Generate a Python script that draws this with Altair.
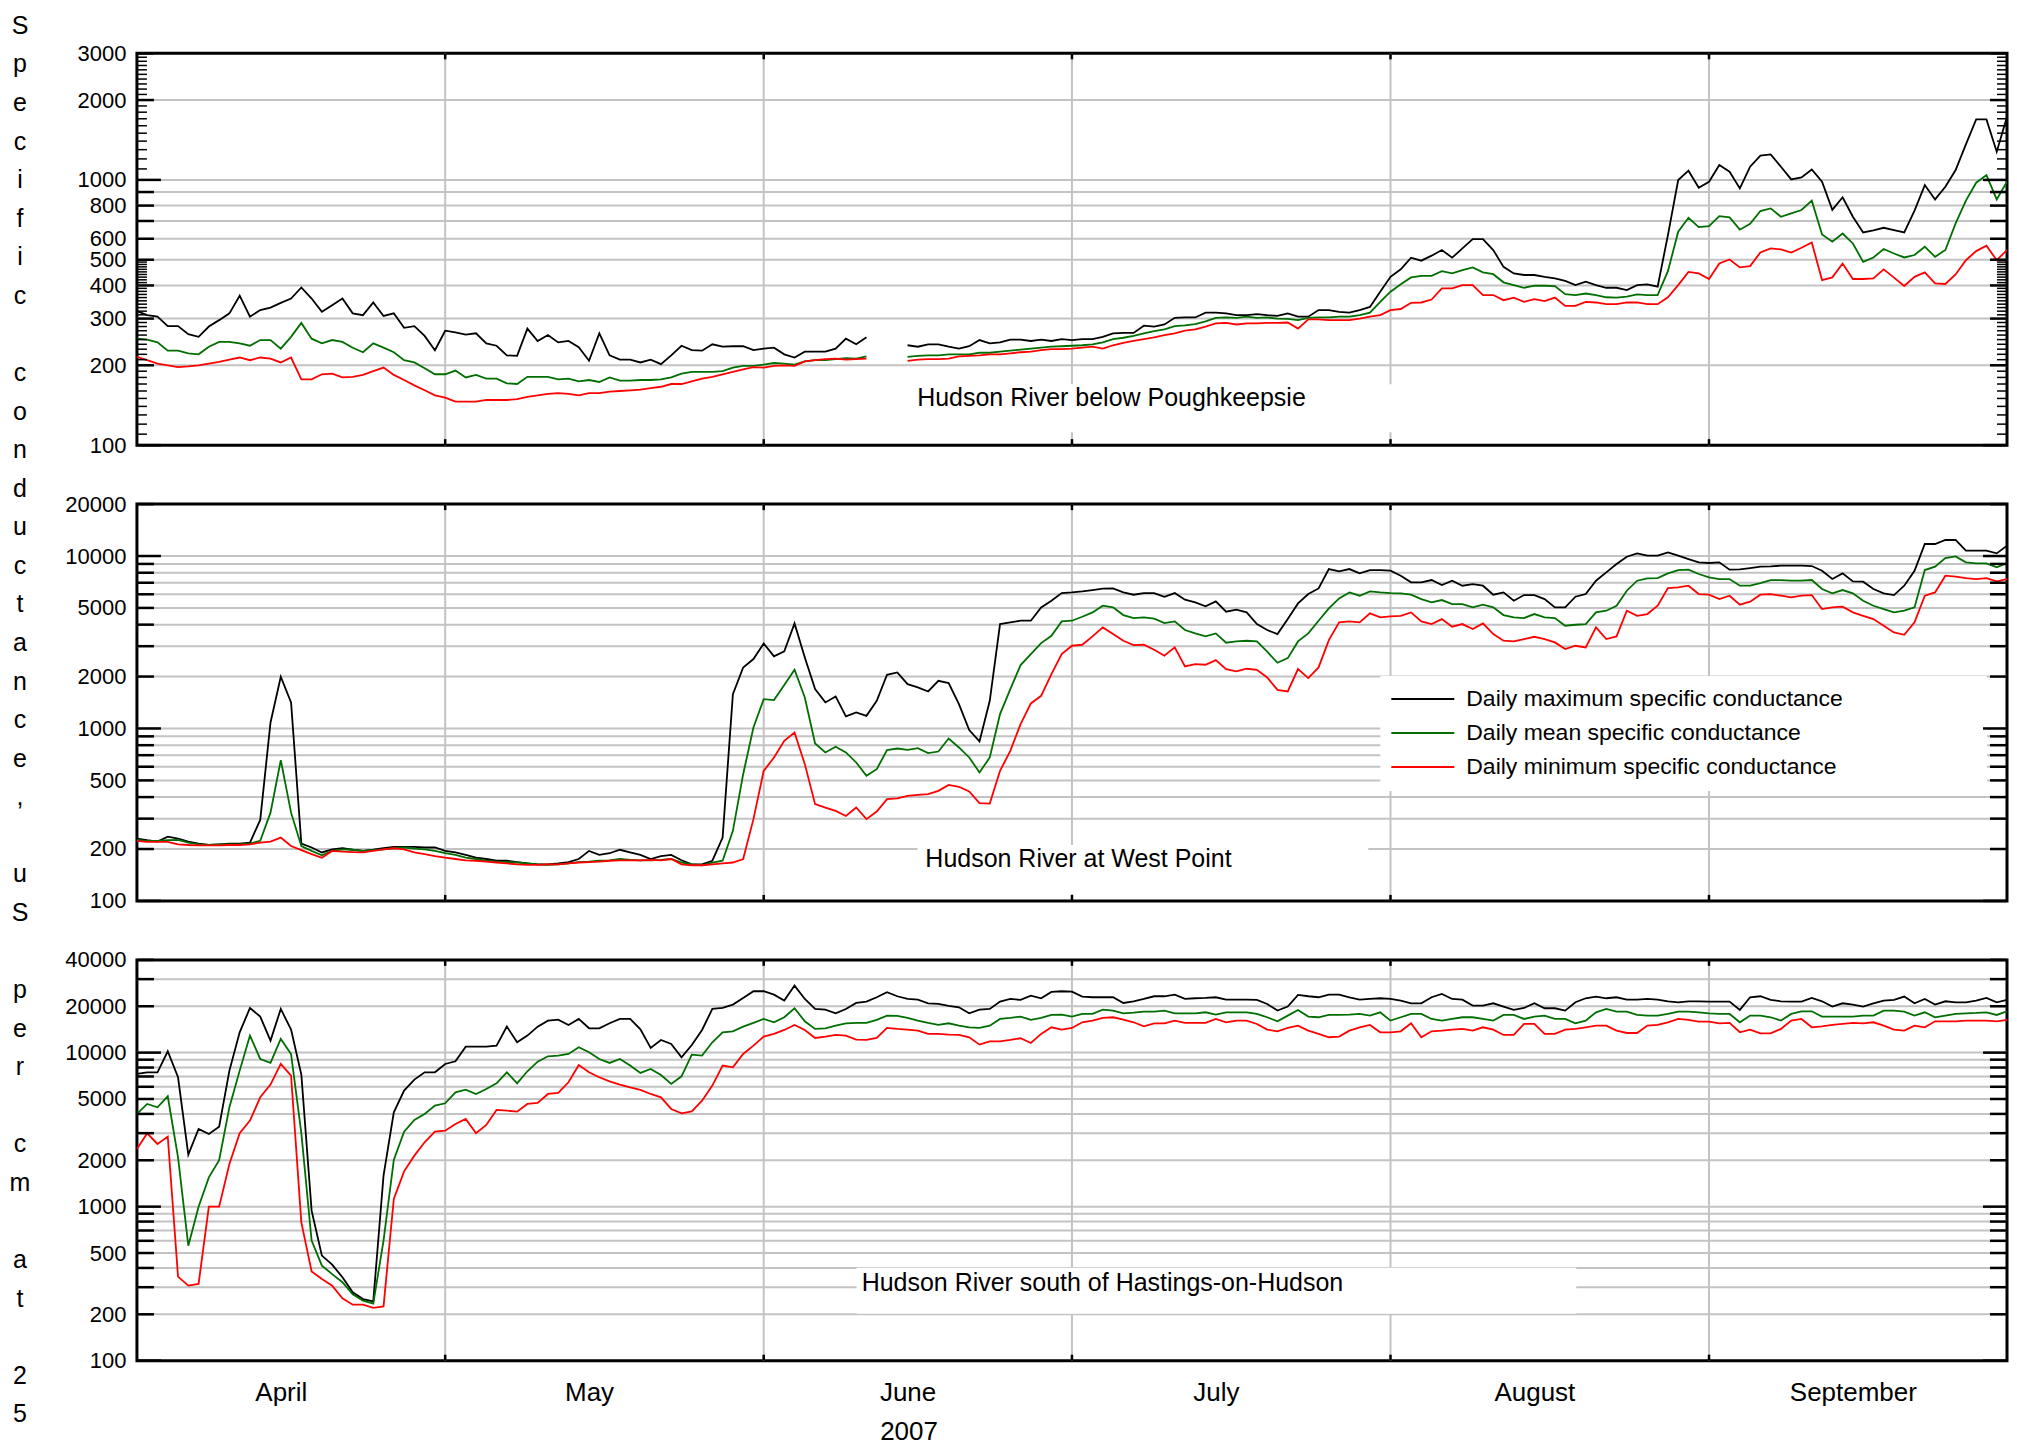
import altair as alt
import pandas as pd

FONT = "Liberation Sans"
GRID = "#c3c3c3"

# ---------------- data ----------------
dates = pd.date_range("2007-04-01", "2007-09-30", freq="D").strftime("%Y-%m-%d").tolist()
month_starts = ["2007-05-01", "2007-06-01", "2007-07-01", "2007-08-01", "2007-09-01"]
month_labels_at = [4, 5, 6, 7, 8, 9]  # labels centred on the 15th of each month

SERIES = ["Daily maximum specific conductance",
          "Daily mean specific conductance",
          "Daily minimum specific conductance"]
COLORS = ["#000000", "#006e00", "#ff0000"]

N = None

# Hudson River below Poughkeepsie
pk_max = [320, 309, 305, 281, 281, 262, 256, 280, 296, 314, 366, 305, 323, 330, 344, 357, 393, 357, 318, 337,
          357, 314, 309, 345, 307, 314, 277, 281, 258, 228, 270, 266, 261, 264, 242, 237, 218, 217, 275, 247,
          260, 244, 247, 234, 208, 264, 218, 210, 210, 205, 210, 202, 218, 237, 228,
          227, 240, 235, 236, 236, 228, 231, 233, 220, 214, 225, 225, 225, 231, 252, 240, 255,
          N, N, N,
          238, 235, 240, 240, 235, 231, 236, 249, 242, 244, 250, 250, 247, 250, 247, 251, 249, 251, 251, 256,
          264, 265, 265, 282, 280, 285, 302, 303, 303, 316, 316, 314, 309, 309, 312, 309, 307, 314, 305, 305,
          323, 323, 318,
          316, 323, 332, 379, 431, 460, 509, 496, 518, 544, 509, 552, 598, 598, 544, 470, 444, 438, 438, 431,
          425, 416, 401, 413, 401, 392, 392, 384, 401, 404, 396, 619, 999, 1083, 934, 984, 1138, 1074, 929, 1121,
          1234, 1248, 1121, 1004, 1022, 1095, 984, 771, 860, 726, 634, 645, 660, 647, 634, 766, 956, 844, 942, 1089,
          1361, 1691, 1691, 1277, 1731]
pk_mean = [252, 250, 244, 227, 227, 222, 220, 235, 245, 245, 242, 237, 249, 249, 231, 256, 289, 252, 242, 249,
           245, 233, 224, 242, 233, 224, 209, 205, 195, 185, 185, 191, 180, 184, 178, 178, 171, 170, 181, 181,
           181, 177, 178, 174, 176, 173, 180, 175, 175, 176, 176, 177, 180, 186, 189,
           189, 189, 190, 196, 199, 199, 201, 204, 203, 201, 207, 209, 209, 211, 213, 212, 216,
           N, N, N,
           215, 217, 218, 218, 220, 220, 220, 223, 223, 225, 227, 229, 231, 233, 235, 236, 237, 238, 240, 244,
           251, 254, 258, 264, 269, 273, 281, 283, 286, 293, 302, 303, 302, 305, 302, 303, 300, 299, 296, 302,
           303, 303, 305,
           305, 309, 316, 347, 379, 404, 429, 435, 435, 453, 444, 457, 468, 448, 441, 411, 401, 392, 399, 399,
           398, 371, 368, 373, 368, 361, 360, 363, 370, 368, 368, 453, 638, 720, 664, 670, 730, 722, 649, 683,
           763, 781, 726, 748, 770, 835, 623, 585, 628, 576, 491, 510, 549, 528, 510, 521, 560, 513, 544, 686,
           835, 976, 1043, 844, 984]
pk_min = [215, 209, 203, 200, 197, 198, 200, 203, 206, 210, 214, 209, 214, 212, 205, 214, 177, 177, 185, 186,
          180, 181, 184, 190, 196, 184, 176, 168, 161, 154, 151, 146, 146, 146, 148, 148, 148, 149, 152, 154,
          156, 157, 156, 154, 157, 157, 159, 160, 161, 162, 164, 166, 170, 170, 174,
          178, 181, 185, 189, 193, 197, 196, 199, 200, 199, 207, 209, 211, 212, 210, 211, 212,
          N, N, N,
          208, 210, 211, 211, 212, 216, 217, 218, 220, 220, 222, 224, 225, 228, 230, 230, 231, 233, 235, 231,
          238, 243, 247, 251, 255, 260, 264, 270, 273, 280, 288, 289, 285, 288, 288, 289, 289, 290, 275, 298,
          298, 296, 296,
          296, 300, 305, 309, 323, 326, 344, 345, 354, 390, 390, 401, 401, 368, 368, 352, 360, 347, 355, 349,
          360, 335, 335, 347, 345, 340, 340, 345, 345, 340, 340, 361, 401, 450, 444, 423, 484, 501, 468, 473,
          533, 552, 547, 532, 555, 581, 419, 429, 484, 423, 423, 425, 460, 428, 398, 431, 448, 407, 405, 440,
          498, 539, 565, 498, 544]

# Hudson River at West Point
wp_max = [230, 225, 221, 236, 230, 221, 215, 211, 213, 215, 215, 218, 295, 1083, 1994, 1416, 215, 204, 191, 199,
          202, 198, 195, 198, 202, 206, 206, 206, 204, 204, 195, 191, 185, 178, 175, 171, 171, 168, 165, 163,
          163, 165, 168, 175, 195, 185, 189, 198, 191, 185, 175, 182, 185, 172, 163,
          163, 171, 233, 1582, 2259, 2526, 3113, 2617, 2798, 4067, 2582, 1691, 1416, 1534, 1174, 1238, 1184, 1447, 2048, 2113,
          1808, 1729, 1639, 1891, 1833, 1384, 978, 841, 1447, 4031, 4122, 4215, 4215, 5037, 5506, 6099, 6153, 6237, 6350, 6464,
          6487, 6153, 5965, 6099, 6099, 5807, 6099, 5580, 5384, 5104, 5457, 4753, 4882, 4710, 4031, 3721, 3527, 4309, 5313, 6018,
          6487, 8403, 8147,
          8403, 7932, 8292, 8292, 8219, 7690, 7035, 7035, 7258, 6786, 7193, 6727, 6879, 6727, 5965, 6153, 5506, 5938, 5938, 5630,
          5037, 5037, 5807, 6018, 7193, 8039, 8986, 9911, 10363, 10044, 10044, 10503, 10044, 9607, 9189, 9108, 9189, 8330, 8368, 8518,
          8671, 8710, 8787, 8787, 8787, 8748, 8219, 7355, 7932, 7129, 7098, 6435, 6072, 5938, 6727, 8219, 11739, 11739, 12386, 12386,
          10738, 10738, 10738, 10363, 11482]
wp_mean = [226, 223, 223, 225, 226, 218, 213, 211, 213, 213, 213, 215, 223, 325, 655, 325, 208, 195, 184, 195,
           199, 198, 195, 197, 199, 202, 204, 201, 199, 195, 189, 185, 178, 175, 171, 169, 168, 167, 165, 163,
           162, 163, 165, 168, 169, 171, 172, 175, 173, 172, 172, 173, 175, 167, 163,
           161, 167, 171, 255, 543, 1013, 1480, 1460, 1784, 2190, 1513, 818, 726, 783, 726, 635, 531, 581, 749, 765,
           752, 769, 719, 735, 875, 776, 679, 556, 679, 1211, 1691, 2331, 2700, 3127, 3449, 4178, 4215, 4446, 4710, 5149,
           5037, 4546, 4368, 4406, 4329, 4085, 4178, 3721, 3559, 3418, 3559, 3141, 3198, 3227, 3198, 2786, 2404, 2559, 3198, 3559,
           4215, 4968, 5681,
           6153, 5886, 6237, 6153, 6099, 6072, 5965, 5630, 5384, 5555, 5266, 5266, 5037, 5219, 5037, 4546, 4406, 4368, 4607, 4406,
           4368, 3942, 3995, 4031, 4710, 4817, 5149, 6293, 7193, 7421, 7450, 7932, 8292, 8330, 7863, 7519, 7355, 7355, 6727, 6727,
           6969, 7258, 7258, 7193, 7193, 7258, 6435, 6072, 6350, 6072, 5506, 5149, 4926, 4710, 4817, 5037, 8292, 8671, 9737, 9956,
           9189, 9066, 9066, 8594, 9108]
wp_min = [223, 220, 220, 220, 213, 211, 210, 210, 210, 211, 211, 213, 218, 221, 233, 208, 197, 187, 178, 195,
          193, 192, 191, 195, 199, 202, 199, 191, 187, 182, 178, 175, 172, 171, 169, 167, 165, 163, 162, 162,
          163, 163, 165, 167, 168, 169, 171, 172, 172, 172, 173, 172, 175, 163, 161,
          161, 163, 165, 167, 175, 298, 568, 679, 848, 948, 621, 364, 348, 333, 311, 348, 298, 330, 389, 393,
          407, 412, 416, 435, 471, 459, 431, 369, 367, 568, 742, 1060, 1397, 1547, 2067, 2700, 3018, 3058, 3418, 3856,
          3527, 3227, 3040, 3058, 2861, 2641, 2951, 2290, 2362, 2341, 2492, 2210, 2142, 2220, 2190, 1976, 1676, 1639, 2210, 1959,
          2259, 3255, 4122,
          4178, 4122, 4649, 4406, 4467, 4501, 4710, 4178, 4031, 4309, 3890, 4031, 3771, 4067, 3527, 3227, 3198, 3299, 3403, 3299,
          3155, 2886, 3018, 2951, 3856, 3299, 3418, 4817, 4501, 4607, 5149, 6521, 6579, 6727, 6018, 5965, 5630, 5886, 5219, 5433,
          5965, 6018, 5886, 5757, 5886, 5938, 4926, 5037, 5082, 4710, 4501, 4309, 3942, 3607, 3495, 4122, 5886, 6153, 7690, 7588,
          7450, 7355, 7450, 7129, 7355]

# Hudson River south of Hastings-on-Hudson
hh_max = [7271, 7454, 7454, 10202, 6917, 2176, 3194, 2965, 3307, 7641, 13552, 19498, 17131, 11966, 19208, 14105, 7197, 942, 481, 420,
          348, 278, 251, 243, 1590, 4099, 5665, 6679, 7454, 7454, 8441, 8783, 10938, 10938, 10938, 11103, 14749, 11673, 12896, 14749,
          16138, 16381, 15121, 16545, 14388, 14388, 15504, 16545, 16545, 14175, 10722, 12087, 11386, 9326, 11214,
          14034, 19208, 19498, 20497, 22646, 25021, 25021, 23806, 21764, 27236, 22311, 19208, 19018, 18003, 19208, 21014, 21439, 22876, 24652, 23220,
          22311, 22090, 20908, 20701, 20091, 19697, 18003, 19018, 19208, 21439, 22311, 21979, 23452, 22535, 24768, 25021, 24893, 23105, 22876, 22876,
          22876, 21014, 21544, 22311, 23220, 23220, 23806, 22311, 22535, 22646, 22876, 22090, 22090, 22090, 21979, 20701, 18737, 19895, 23689, 23220,
          22876, 23806, 23806,
          22876, 22090, 22311, 22535, 22311, 21764, 20908, 20908, 22876, 24046, 22311, 22090, 20199, 20199, 20908, 19895, 18928, 19498, 20908, 19406,
          19406, 18737, 21222, 22535, 23105, 22535, 22876, 22090, 22090, 22311, 22090, 21544, 21222, 21544, 21544, 21439, 21439, 21439, 18928, 22876,
          23220, 21979, 21544, 21439, 21439, 22646, 21544, 19895, 20908, 20497, 19895, 20908, 21764, 21979, 23105, 20908, 22311, 20497, 21544, 21222,
          21222, 21764, 22646, 21222, 21979]
hh_mean = [3997, 4642, 4416, 5205, 2091, 558, 1000, 1550, 2000, 4416, 7641, 12896, 9095, 8569, 12268, 9802, 3000, 602, 414, 365,
           323, 270, 245, 235, 602, 2009, 3069, 3655, 3997, 4527, 4688, 5527, 5751, 5390, 5808, 6322, 7454, 6322, 7566, 8741,
           9468, 9561, 9802, 10830, 10051, 9095, 8569, 9095, 8235, 7379, 7832, 7161, 6259, 7020, 9705,
           9561, 11673, 13552, 13754, 14749, 15584, 16545, 15740, 16963, 19406, 15973, 14246, 14388, 14970, 15504, 15584, 15584, 16300, 17393, 17310,
           16796, 16138, 15584, 15121, 15504, 14970, 14604, 14460, 14970, 16545, 16796, 17131, 16300, 16796, 17565, 17654, 17131, 17829, 17829, 19018,
           18737, 18003, 18185, 18458, 18458, 18737, 18003, 18003, 18003, 18276, 17654, 18276, 18276, 18276, 17829, 16963, 15973, 17393, 18928, 17131,
           16963, 17565, 17565,
           17654, 17829, 17393, 18276, 16138, 16963, 17829, 17829, 16545, 16138, 16545, 16963, 16963, 16545, 16138, 17565, 17565, 16545, 17131, 17393,
           16545, 16545, 15504, 16138, 18276, 19208, 18458, 18458, 17565, 17393, 17393, 17829, 18458, 18458, 18276, 18003, 17829, 17829, 15740, 17393,
           17393, 16963, 16138, 17829, 18552, 18552, 17131, 17131, 17131, 17131, 17393, 17393, 18737, 18737, 18458, 17393, 18276, 16963, 17393, 17829,
           18003, 18094, 18276, 17565, 18552]
hh_min = [2369, 2994, 2552, 2849, 351, 307, 315, 1000, 1000, 1892, 2994, 3617, 5128, 6198, 8441, 7089, 791, 380, 339, 307,
          254, 231, 231, 220, 225, 1121, 1696, 2144, 2616, 3069, 3115, 3443, 3709, 2994, 3392, 4243, 4201, 4139, 4642, 4712,
          5390, 5471, 6418, 8317, 7454, 6917, 6514, 6198, 5955, 5722, 5390, 5128, 4307, 4036, 4159,
          4878, 6106, 8235, 8031, 9802, 11103, 12705, 13221, 14034, 15121, 14034, 12452, 12705, 13024, 12896, 12146, 12087, 12452, 14461, 14246,
          14105, 13894, 13221, 13221, 13091, 13024, 12579, 11269, 11847, 11847, 12087, 12392, 11555, 13221, 14604, 14105, 14461, 15740, 16138, 16796,
          16963, 16381, 15740, 14825, 15504, 15504, 16138, 15584, 15584, 15584, 16545, 15740, 16138, 16138, 15349, 14105, 13754, 14461, 14970, 13894,
          13221, 12579, 12705,
          13894, 14604, 15121, 13552, 13552, 13754, 15504, 12579, 13754, 13894, 14105, 14246, 13894, 14604, 14105, 13024, 13024, 15349, 15349, 13221,
          13221, 14105, 14246, 14604, 14970, 14970, 13894, 13411, 13411, 14970, 15121, 15740, 16545, 16300, 15893, 15893, 15504, 15584, 13552, 14105,
          13351, 13351, 14246, 16138, 16545, 14604, 14825, 15121, 15349, 15584, 15504, 15740, 14970, 14105, 13894, 14970, 14604, 15973, 15973, 15973,
          16138, 16138, 16138, 15973, 16300]

for arr in (pk_max, pk_mean, pk_min, wp_max, wp_mean, wp_min, hh_max, hh_mean, hh_min):
    assert len(arr) == len(dates), len(arr)

Y_TITLE = "Specific conductance, uS per cm at 25"

# ---------------- layout ----------------
W = 1871
H1, H2, H3 = 392, 397, 401

xscale = alt.Scale(type="utc", nice=False,
                   domain=[alt.DateTime(year=2007, month=4, date=1, utc=True),
                           alt.DateTime(year=2007, month=9, date=30, utc=True)])
cscale = alt.Scale(domain=SERIES, range=COLORS)


def long_df(mx, me, mn):
    rows = []
    for s, arr in zip(SERIES, (mx, me, mn)):
        for d, v in zip(dates, arr):
            rows.append({"date": d, "value": v, "series": s})
    return pd.DataFrame(rows)


def one(**kw):
    return pd.DataFrame({k: [v] for k, v in kw.items()})


def panel(df, H, ydom, grid_vals, label_vals, long_t, med_t, small_t,
          note, note_xy, box, xaxis, extra=()):
    yscale = alt.Scale(type="log", domain=ydom, nice=False)
    yaxis = alt.Axis(values=label_vals, format="d", ticks=False, domain=False, grid=False,
                     labelFont=FONT, labelFontSize=22, labelColor="black", labelPadding=11,
                     labelOverlap=False, title=None)

    def ych(f="v"):
        return alt.Y(f"{f}:Q", scale=yscale, axis=yaxis)

    def xch(f="d"):
        return alt.X(f"{f}:T", scale=xscale, axis=xaxis)

    layers = []
    layers.append(alt.Chart(pd.DataFrame({"v": grid_vals})).mark_rule(color=GRID, strokeWidth=2)
                  .encode(y=ych(), x=alt.value(0), x2=alt.value(W)))
    layers.append(alt.Chart(pd.DataFrame({"d": month_starts})).mark_rule(color=GRID, strokeWidth=2)
                  .encode(x=xch(), y=alt.value(0), y2=alt.value(H)))
    # white box behind the station name
    bx0, bx1, by0, by1 = box
    layers.append(alt.Chart(one(a=0)).mark_rect(color="white")
                  .encode(x=alt.value(bx0), x2=alt.value(bx1), y=alt.value(by0), y2=alt.value(by1)))
    layers.extend(extra)
    layers.append(alt.Chart(df).mark_line(strokeWidth=1.8, clip=True).encode(
        x=xch("date"), y=ych("value"),
        color=alt.Color("series:N", scale=cscale, legend=None),
        detail="series:N"))
    layers.append(alt.Chart(one(t=note)).mark_text(font=FONT, fontSize=25, color="black",
                                                   align="center", baseline="middle")
                  .encode(x=alt.value(note_xy[0]), y=alt.value(note_xy[1]), text="t:N"))
    # y ticks, left and right, inward
    for vals, ln, sw in ((long_t, 24, 2.5), (med_t, 17, 2.5), (small_t, 10, 1.5)):
        if not vals:
            continue
        tdf = pd.DataFrame({"v": vals})
        layers.append(alt.Chart(tdf).mark_rule(color="black", strokeWidth=sw)
                      .encode(y=ych(), x=alt.value(0), x2=alt.value(ln)))
        layers.append(alt.Chart(tdf).mark_rule(color="black", strokeWidth=sw)
                      .encode(y=ych(), x=alt.value(W - ln), x2=alt.value(W)))
    # month ticks, top and bottom, inward
    mdf = pd.DataFrame({"d": month_starts})
    layers.append(alt.Chart(mdf).mark_rule(color="black", strokeWidth=2.5)
                  .encode(x=xch(), y=alt.value(H - 6), y2=alt.value(H)))
    layers.append(alt.Chart(mdf).mark_rule(color="black", strokeWidth=2.5)
                  .encode(x=xch(), y=alt.value(0), y2=alt.value(6)))
    return alt.layer(*layers).properties(width=W, height=H)


# panel 1 ticks
p1_long = [100, 1000]
p1_med = [200, 300, 400, 500, 600, 700, 800, 900, 2000, 3000]
p1_small = [v for v in range(110, 500, 10) if v % 100 != 0] + \
           [v for v in range(1100, 3000, 100) if v % 1000 != 0]

hundreds = [200, 300, 400, 500, 600, 700, 800, 900]
thousands = [2000, 3000, 4000, 5000, 6000, 7000, 8000, 9000]

# axis title written one character per line, each word as its own stacked text
LINE_H = 38.59
letter_layers = []
row = 0
for word in Y_TITLE.split(" "):
    letter_layers.append(
        alt.Chart(one(w=word)).mark_text(
            text=list(word), font=FONT, fontSize=25, color="black", align="center",
            baseline="alphabetic", lineHeight=LINE_H)
        .encode(x=alt.value(-117), y=alt.value(-19.5 + row * LINE_H)))
    row += len(word) + 1

p1 = panel(long_df(pk_max, pk_mean, pk_min), H1, [100, 3000],
           hundreds + [1000, 2000],
           [100, 200, 300, 400, 500, 600, 800, 1000, 2000, 3000],
           p1_long, p1_med, p1_small,
           "Hudson River below Poughkeepsie", (975, 345), (745, 1285, 331, 379),
           None, extra=letter_layers)

# legend (drawn in the West Point panel)
leg_rows = [195, 229, 263]
leg_layers = [alt.Chart(one(a=0)).mark_rect(color="white")
              .encode(x=alt.value(1244), x2=alt.value(1851), y=alt.value(172), y2=alt.value(287))]
for s, c, yy in zip(SERIES, COLORS, leg_rows):
    leg_layers.append(alt.Chart(one(s=s)).mark_rule(color=c, strokeWidth=1.8)
                      .encode(x=alt.value(1255), x2=alt.value(1318), y=alt.value(yy)))
    leg_layers.append(alt.Chart(one(s=s)).mark_text(font=FONT, fontSize=23, color="black",
                                                    align="left", baseline="middle")
                      .encode(x=alt.value(1330), y=alt.value(yy), text="s:N"))

p2 = panel(long_df(wp_max, wp_mean, wp_min), H2, [100, 20000],
           hundreds + [1000] + thousands + [10000],
           [100, 200, 500, 1000, 2000, 5000, 10000, 20000],
           [100, 1000, 10000], hundreds + thousands + [20000], [],
           "Hudson River at West Point", (942, 355), (781, 1232, 341, 390),
           None, extra=leg_layers)

xaxis3 = alt.Axis(values=[alt.DateTime(year=2007, month=m, date=15, utc=True) for m in month_labels_at],
                  labelExpr="utcFormat(datum.value, '%B')", ticks=False, domain=False, grid=False,
                  labelFont=FONT, labelFontSize=26, labelColor="black", labelPadding=32,
                  labelBaseline="middle", labelFlush=False, labelOverlap=False,
                  title="2007", titleFont=FONT, titleFontSize=26, titleFontWeight="normal",
                  titleColor="black", titleX=772, titleY=79, titleAlign="center",
                  titleBaseline="alphabetic")

p3 = panel(long_df(hh_max, hh_mean, hh_min), H3, [100, 40000],
           hundreds + [1000] + thousands + [10000, 20000, 30000],
           [100, 200, 500, 1000, 2000, 5000, 10000, 20000, 40000],
           [100, 1000, 10000], hundreds + thousands + [20000, 30000, 40000], [],
           "Hudson River south of Hastings-on-Hudson", (966, 323), (720, 1440, 308, 354),
           xaxis3)

chart = alt.vconcat(p1, p2, p3, spacing=59, bounds="flush").properties(
    padding={"left": 0, "top": 4, "right": -1, "bottom": 0},
    background="white",
).configure_view(stroke="black", strokeWidth=3)

chart.save("out.html", embed_options={"renderer": "svg", "actions": False})
